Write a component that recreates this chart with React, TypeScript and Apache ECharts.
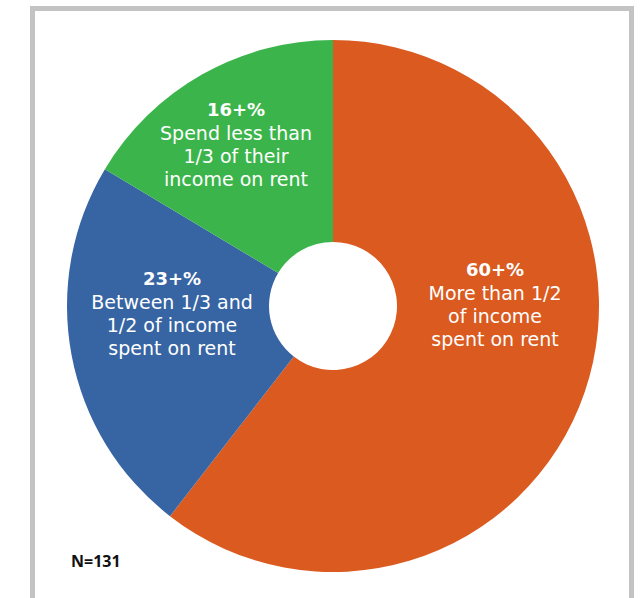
import React, { useEffect, useRef } from "react";
import * as echarts from "echarts";

const categories = [
  "More than 1/2 of income spent on rent",
  "Between 1/3 and 1/2 of income spent on rent",
  "Spend less than 1/3 of their income on rent",
];
const values = [60.5, 23.1, 16.4];
const percentLabels = ["60+%", "23+%", "16+%"];
const descLines = [
  ["More than 1/2", "of income", "spent on rent"],
  ["Between 1/3 and", "1/2 of income", "spent on rent"],
  ["Spend less than", "1/3 of their", "income on rent"],
];
const sampleNote = "N=131";

const colors = ["#DA5A20", "#3764A3", "#3BB54B"];
const labelCenters = [
  [495, 304],
  [172, 313],
  [236, 144],
];

export default function App() {
  const ref = useRef<HTMLDivElement>(null);
  useEffect(() => {
    if (!ref.current) return;
    const chart = echarts.init(ref.current, null, { renderer: "svg" });
    const font = "'DejaVu Sans', 'Noto Sans', sans-serif";
    chart.setOption({
      animation: false,
      title: {
        text: sampleNote,
        left: 66,
        top: 548,
        textStyle: { fontFamily: "'Open Sans', sans-serif", fontWeight: "bold", fontSize: 16, color: "#111" },
      },
      graphic: [
        {
          type: "rect",
          shape: { x: 32.5, y: 8.5, width: 599, height: 700 },
          style: { fill: "none", stroke: "#C3C3C3", lineWidth: 5 },
          silent: true,
        },
      ],
      series: [
        {
          type: "pie",
          center: [333, 306],
          radius: [64, 266],
          startAngle: 90,
          clockwise: true,
          avoidLabelOverlap: false,
          itemStyle: { borderWidth: 0 },
          label: {
            show: true,
            position: "inside",
            color: "#fff",
            fontFamily: font,
            formatter: (p: any) =>
              `{p|${percentLabels[p.dataIndex]}}\n` +
              descLines[p.dataIndex].map((l) => `{t|${l}}`).join("\n"),
            rich: {
              p: { fontFamily: font, fontWeight: "bold", fontSize: 18, lineHeight: 23, color: "#fff", align: "center" },
              t: { fontFamily: font, fontSize: 19, lineHeight: 23, color: "#fff", align: "center" },
            },
          },
          labelLine: { show: false },
          labelLayout: (params: any) => ({
            x: labelCenters[params.dataIndex][0],
            y: labelCenters[params.dataIndex][1],
            align: "center",
            verticalAlign: "middle",
          }),
          data: categories.map((name, i) => ({
            name,
            value: values[i],
            itemStyle: { color: colors[i] },
          })),
        },
      ],
    });
    return () => chart.dispose();
  }, []);
  return (
    <div
      ref={ref}
      style={{ position: "fixed", left: 0, top: 0, width: 641, height: 598, background: "#fff" }}
    />
  );
}
